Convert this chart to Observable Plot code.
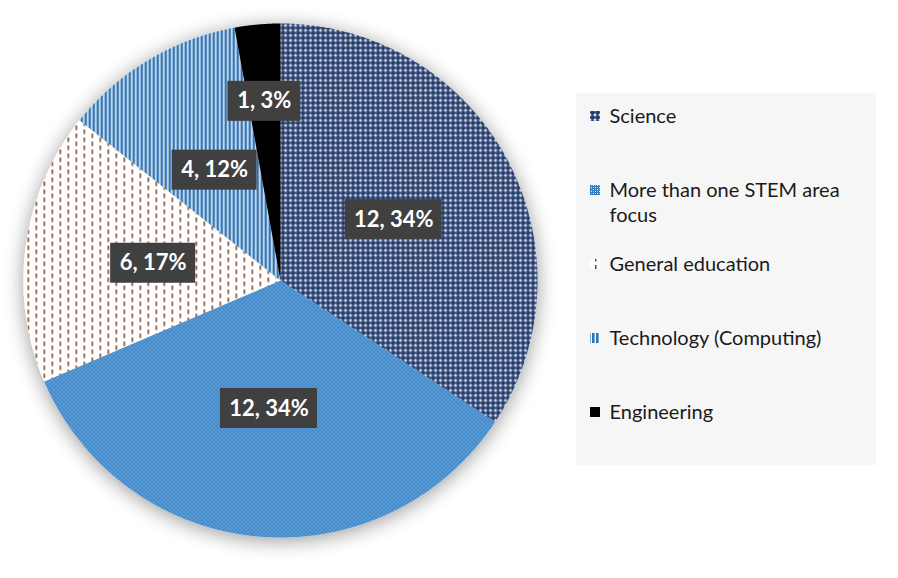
<!DOCTYPE html>
<html>
<head>
<meta charset="utf-8">
<script src="https://cdn.jsdelivr.net/npm/d3@7"></script>
<script src="https://cdn.jsdelivr.net/npm/@observablehq/plot@0.6"></script>
<style>
  html, body { margin: 0; padding: 0; background: #ffffff; }
  #chart { width: 898px; height: 578px; }
</style>
</head>
<body>
<div id="chart"></div>
<script>
// ---- data ----
const categories = ["Science", "More than one STEM area focus", "General education", "Technology (Computing)", "Engineering"];
const counts = [12, 12, 6, 4, 1];
const percentLabels = ["34%", "34%", "17%", "12%", "3%"];
const legendLines = [["Science"], ["More than one STEM area", "focus"], ["General education"], ["Technology (Computing)"], ["Engineering"]];
const patternIds = ["pSci", "pStem", "pGen", "pTech", "pEng"];

// ---- layout ----
const W = 898, H = 578;
const cx = 280, cy = 280, R = 257;
const fx = px => (px - cx) / R;
const fy = py => (cy - py) / R;

const arcs = d3.pie().sort(null).value(d => d)(counts);

const slicePts = arcs.flatMap((a, i) => {
  const pts = [{k: i, x: 0, y: 0}];
  const n = Math.max(4, Math.ceil((a.endAngle - a.startAngle) / 0.005));
  for (let j = 0; j <= n; j++) {
    const t = a.startAngle + (a.endAngle - a.startAngle) * j / n;
    pts.push({k: i, x: Math.sin(t), y: Math.cos(t)});
  }
  pts.push({k: i, x: 0, y: 0});
  return pts;
});

const labels = arcs.map((a, i) => {
  const mid = (a.startAngle + a.endAngle) / 2;
  const frac = (a.endAngle - a.startAngle) < 0.3 ? 0.7 : 0.5;
  const text = `${counts[i]}, ${percentLabels[i]}`;
  return {x: frac * Math.sin(mid), y: frac * Math.cos(mid), text, w: (12 * text.length + 13) / R, h: 40 / R};
});

const legendTop = 116, legendStep = 74, lineStep = 25;
const legendText = legendLines.flatMap((lines, i) =>
  lines.map((t, j) => ({x: fx(609), y: fy(legendTop + i * legendStep + j * lineStep), text: t})));
const legendSw = categories.map((c, i) => ({
  x1: fx(590), x2: fx(600), y1: fy(legendTop + i * legendStep - 5), y2: fy(legendTop + i * legendStep + 5),
  fill: `url(#${patternIds[i]})`
}));

const plot = Plot.plot({
  width: W, height: H,
  margin: 0,
  x: {domain: [-1, 1], range: [cx - R, cx + R], axis: null},
  y: {domain: [-1, 1], range: [cy + R, cy - R], axis: null},
  color: {type: "identity"},
  style: {fontFamily: "Lato, 'Open Sans', sans-serif", background: "#ffffff"},
  marks: [
    Plot.rect([0], {x1: fx(576), x2: fx(876), y1: fy(93), y2: fy(465), fill: "#f6f6f6"}),
    Plot.line(slicePts, {x: "x", y: "y", z: "k", fill: d => `url(#${patternIds[d.k]})`, stroke: "none", curve: "linear"}),
    Plot.rect(labels, {x1: d => d.x - d.w / 2, x2: d => d.x + d.w / 2, y1: d => d.y - d.h / 2, y2: d => d.y + d.h / 2, fill: "#404040"}),
    Plot.text(labels, {x: "x", y: "y", text: "text", fill: "#ffffff", fontSize: 22, fontWeight: "bold"}),
    Plot.rect(legendSw, {x1: "x1", x2: "x2", y1: "y1", y2: "y2", fill: "fill"}),
    Plot.text(legendText, {x: "x", y: "y", text: "text", textAnchor: "start", fill: "#1a1a1a", fontSize: 20})
  ]
});

const NS = "http://www.w3.org/2000/svg";
const defs = document.createElementNS(NS, "defs");
defs.innerHTML = `
  <pattern id="pSci" patternUnits="userSpaceOnUse" width="5" height="5">
    <rect width="5" height="5" fill="#ffffff"/>
    <circle cx="2.5" cy="2.5" r="2.45" fill="#1b3466"/>
    <circle cx="2.0" cy="2.0" r="0.7" fill="#4a64a0"/>
  </pattern>
  <pattern id="pStem" patternUnits="userSpaceOnUse" width="4" height="4">
    <rect width="4" height="4" fill="#2f7dc4"/>
    <rect x="1" y="1" width="1" height="1" fill="#e6f1fb"/>
    <rect x="3" y="3" width="1" height="1" fill="#e6f1fb"/>
    <rect x="3" y="1" width="1" height="1" fill="#7db6e8"/>
    <rect x="1" y="3" width="1" height="1" fill="#7db6e8"/>
  </pattern>
  <pattern id="pGen" patternUnits="userSpaceOnUse" width="16" height="8">
    <rect width="16" height="8" fill="#ffffff"/>
    <rect x="3" y="1" width="1.5" height="4.5" fill="#7a3e1a"/>
    <rect x="11" y="5" width="1.5" height="4.5" fill="#7a3e1a"/>
    <rect x="11" y="-3" width="1.5" height="4.5" fill="#7a3e1a"/>
  </pattern>
  <pattern id="pTech" patternUnits="userSpaceOnUse" width="4" height="4">
    <rect width="4" height="4" fill="#ffffff"/>
    <rect x="0" y="0" width="2.6" height="4" fill="#2e75b6"/>
  </pattern>
  <pattern id="pEng" patternUnits="userSpaceOnUse" width="4" height="4">
    <rect width="4" height="4" fill="#000000"/>
  </pattern>
  <filter id="pieShadow" x="-20%" y="-20%" width="140%" height="140%">
    <feGaussianBlur in="SourceAlpha" stdDeviation="10"/>
    <feOffset dx="0" dy="3" result="b"/>
    <feComponentTransfer><feFuncA type="linear" slope="0.4"/></feComponentTransfer>
    <feMerge><feMergeNode/><feMergeNode in="SourceGraphic"/></feMerge>
  </filter>`;
plot.insertBefore(defs, plot.firstChild);
const pieG = plot.querySelector('g[aria-label="line"]');
if (pieG) pieG.setAttribute("filter", "url(#pieShadow)");

document.getElementById("chart").appendChild(plot);
</script>
</body>
</html>
